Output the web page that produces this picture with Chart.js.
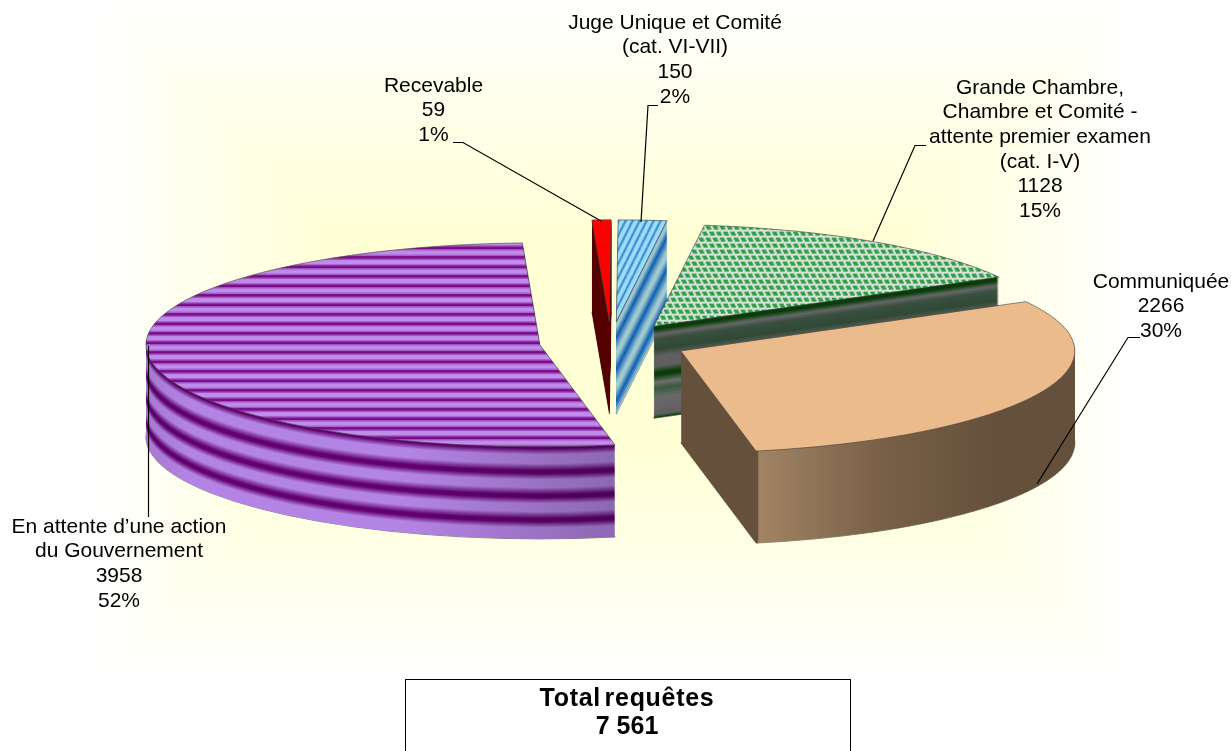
<!DOCTYPE html>
<html>
<head>
<meta charset="utf-8">
<style>
    html, body { margin: 0; padding: 0; background: #fff; overflow: hidden; }
    #chart { display: block; }
</style>
</head>
<body>
<canvas id="chart" width="1231" height="751"></canvas>
<script src="https://cdn.jsdelivr.net/npm/chart.js@4"></script>
<script>
const categories = ['En attente d’une action\ndu Gouvernement', 'Recevable', 'Juge Unique et Comité\n(cat. VI-VII)', 'Grande Chambre,\nChambre et Comité -\nattente premier examen\n(cat. I-V)', 'Communiquée'];
const requetes = [3958, 59, 150, 1128, 2266];
const totalLabel = 'Total requêtes';

// pie look, all px
const TILT = 0.259;
const DEPTH = 92;
const RADIUS = 394;
const explode = [73.6, 80, 80, 76, 76];
const nudgeX = [0, -2, -2, -2, -1];
const drawOrder = [1, 2, 3, 0, 4];

const labelPos = [[119, 527], [433.5, 86], [675, 23], [1040, 88], [1161, 282]];
const leaders = [
    [[148.5, 346], [148.5, 517]],
    [[453, 142.5], [463, 142.5], [601, 221]],
    [[658, 105.5], [648, 105.5], [641, 222]],
    [[926, 145.5], [915, 145.5], [873, 241]],
    [[1140, 337.5], [1128, 337.5], [1037, 484]]
];

// depth -> colour bands of the side walls
const purpleBands = [[0, '#62006e'], [2, '#62006e'], [8, '#b484e4'], [17, '#b484e4'], [24, '#62006e'], [27, '#62006e'], [33, '#b484e4'], [41, '#b484e4'], [48, '#62006e'], [51, '#62006e'], [57, '#b484e4'], [65, '#b484e4'], [72, '#62006e'], [75, '#62006e'], [81, '#b484e4'], [92, '#b484e4']];
const greenBands = [[0, '#0a3d0a'], [4, '#0a3d0a'], [9, '#666666'], [14, '#3a5040'], [24, '#304a35'], [31, '#606060'], [41, '#606060'], [47, '#0a3d0a'], [50, '#0a3d0a'], [57, '#707070'], [63, '#3a5a40'], [72, '#6a6a6a'], [89, '#606060'], [92, '#114411']];
const blueBands = [[0, '#a0c8d0'], [6, '#a0c8d0'], [16, '#1060b0'], [30, '#a0c8d0'], [36, '#a0c8d0'], [48, '#1060b0'], [62, '#a0c8d0'], [68, '#a0c8d0'], [80, '#1060b0'], [92, '#a0c8d0']];

const hexToRgb = (hex) => [1, 3, 5].map(i => parseInt(hex.slice(i, i + 2), 16));
const rgb = (c, f = 1) => `rgb(${c.map(v => Math.round(v * f)).join(',')})`;

const bandAt = (bands, depth) => {
    for (let i = 1; i < bands.length; i++) {
        if (depth <= bands[i][0]) {
            const t = (depth - bands[i - 1][0]) / (bands[i][0] - bands[i - 1][0]);
            const a = hexToRgb(bands[i - 1][1]);
            const b = hexToRgb(bands[i][1]);
            return a.map((v, j) => v + (b[j] - v) * t);
        }
    }
    return hexToRgb(bands[bands.length - 1][1]);
};

const tile = (w, h, paint) => {
    const c = document.createElement('canvas');
    c.width = w;
    c.height = h;
    paint(c.getContext('2d'));
    const pattern = c.getContext('2d').createPattern(c, 'repeat');
    // cancels the y squash of the pie so the hatch stays square on screen
    pattern.setTransform(new DOMMatrix().scale(1, 1 / TILT));
    return pattern;
};

const purpleTop = tile(4, 19, (g) => {
    g.fillStyle = '#a45cc8';
    g.fillRect(0, 0, 4, 19);
    g.fillStyle = '#7a0a88';
    g.fillRect(0, 0, 4, 2.5);
    g.fillRect(0, 9.5, 4, 2.5);
    g.fillStyle = '#c08eea';
    g.fillRect(0, 4, 4, 4);
    g.fillRect(0, 13.5, 4, 4);
});

const blueTop = tile(7, 14, (g) => {
    g.fillStyle = '#a0dcf8';
    g.fillRect(0, 0, 7, 14);
    g.strokeStyle = '#2a88d0';
    g.lineWidth = 2;
    [-7, 0, 7].forEach(x => {
        g.beginPath();
        g.moveTo(x, 14);
        g.lineTo(x + 7, 0);
        g.stroke();
    });
});

const greenTop = tile(7, 12, (g) => {
    g.fillStyle = '#d6e2d6';
    g.fillRect(0, 0, 7, 12);
    g.fillStyle = '#2f9c48';
    g.fillRect(0, 0, 4.5, 2);
    g.fillRect(1, 2, 4.5, 2);
    g.fillRect(3.5, 6, 4.5, 2);
    g.fillRect(-3.5, 6, 4.5, 2);
    g.fillRect(4.5, 8, 4.5, 2);
    g.fillRect(-2.5, 8, 4.5, 2);
});

const topColors = [purpleTop, '#ff0000', blueTop, greenTop, '#ebbb8c'];

const wallFill = (ctx, i, depth, shiftX) => {
    if (i === 1) return '#560000';
    if (i === 2) return rgb(bandAt(blueBands, depth));
    if (i === 3) return rgb(bandAt(greenBands, depth));
    if (i === 0) {
        const c = bandAt(purpleBands, depth);
        const g = ctx.createLinearGradient(146 - shiftX, 0, 615 - shiftX, 0);
        g.addColorStop(0, rgb(c, 0.92));
        g.addColorStop(0.1, rgb(c, 1));
        g.addColorStop(0.55, rgb(c, 1));
        g.addColorStop(1, rgb(c, 0.78));
        return g;
    }
    const g = ctx.createLinearGradient(680 - shiftX, 0, 1074 - shiftX, 0);
    g.addColorStop(0, '#65503c');
    g.addColorStop(0.197, '#65503c');
    g.addColorStop(0.2, '#a28464');
    g.addColorStop(0.5, '#7a6148');
    g.addColorStop(0.8, '#65503c');
    g.addColorStop(1, '#65503c');
    return g;
};

const sliceShift = (arc, i) => {
    const mid = (arc.startAngle + arc.endAngle) / 2;
    return [Math.cos(mid) * explode[i] + nudgeX[i], Math.sin(mid) * explode[i]];
};

const placeSlice = (ctx, arc, i, depth) => {
    const [dx, dy] = sliceShift(arc, i);
    ctx.translate(arc.x, arc.y + depth);
    ctx.scale(1, TILT);
    ctx.translate(-arc.x + dx, -arc.y + dy);
};

const outline = (ctx, arc, i, depth) => {
    ctx.save();
    placeSlice(ctx, arc, i, depth);
    ctx.beginPath();
    ctx.moveTo(arc.x, arc.y);
    ctx.arc(arc.x, arc.y, arc.outerRadius, arc.startAngle, arc.endAngle);
    ctx.closePath();
    ctx.restore();
    ctx.strokeStyle = 'rgba(70,70,70,0.65)';
    ctx.lineWidth = 1;
    ctx.stroke();
};

const drawWith = (ctx, arc, fill) => {
    const base = arc.options;
    arc.options = { ...base, backgroundColor: fill };
    arc.draw(ctx);
    arc.options = base;
};

const pie3d = {
    id: 'pie3d',
    beforeDraw(chart) {
        // soft yellow box gradient behind the pie
        const ctx = chart.ctx;
        const edge = [255, 255, 254];
        const core = [255, 255, 214];
        for (let d = 0; d <= 230; d += 3) {
            const f = d / 230;
            ctx.fillStyle = rgb(edge.map((v, j) => v + (core[j] - v) * f));
            ctx.fillRect(100 + d, d, 1030 - 2 * d, 680 - 2 * d);
        }
    },
    beforeDatasetsDraw(chart) {
        const ctx = chart.ctx;
        const arcs = chart.getDatasetMeta(0).data;
        drawOrder.forEach(i => {
            const arc = arcs[i];
            const [dx] = sliceShift(arc, i);
            outline(ctx, arc, i, DEPTH);
            for (let depth = DEPTH; depth >= 1; depth--) {
                ctx.save();
                placeSlice(ctx, arc, i, depth);
                drawWith(ctx, arc, wallFill(ctx, i, depth, dx));
                ctx.restore();
            }
            ctx.save();
            placeSlice(ctx, arc, i, 0);
            arc.draw(ctx);
            ctx.restore();
            outline(ctx, arc, i, 0);
        });
        return false;
    },
    afterDraw(chart) {
        const ctx = chart.ctx;
        const total = requetes.reduce((a, b) => a + b, 0);

        ctx.strokeStyle = '#000';
        ctx.lineWidth = 1.2;
        leaders.forEach(line => {
            ctx.beginPath();
            line.forEach(([x, y], n) => n ? ctx.lineTo(x, y) : ctx.moveTo(x, y));
            ctx.stroke();
        });

        ctx.fillStyle = '#000';
        ctx.textAlign = 'center';
        ctx.textBaseline = 'middle';
        ctx.font = '21px "Liberation Sans"';
        categories.forEach((name, i) => {
            const lines = name.split('\n').concat(String(requetes[i]), Math.round(requetes[i] / total * 100) + '%');
            lines.forEach((text, n) => ctx.fillText(text, labelPos[i][0], labelPos[i][1] + n * 24.6));
        });

        ctx.lineWidth = 1;
        ctx.strokeRect(405.5, 679.5, 445, 90);
        ctx.font = 'bold 25px "Liberation Sans"';
        ctx.letterSpacing = '0.7px';
        ctx.wordSpacing = '-4px';
        ctx.fillText(totalLabel, 627, 699);
        ctx.letterSpacing = '0px';
        ctx.wordSpacing = '0px';
        ctx.fillText(String(total).replace(/(\d)(\d{3})$/, '$1 $2'), 627, 727);
    }
};

new Chart(document.getElementById('chart'), {
    type: 'pie',
    data: {
        labels: categories,
        datasets: [{ data: requetes, backgroundColor: topColors, borderWidth: 0 }]
    },
    options: {
        responsive: false,
        animation: false,
        rotation: 169,
        radius: RADIUS,
        layout: { padding: { right: 5, bottom: 65.8 } },
        plugins: { legend: { display: false }, tooltip: { enabled: false } }
    },
    plugins: [pie3d]
});
</script>
</body>
</html>
